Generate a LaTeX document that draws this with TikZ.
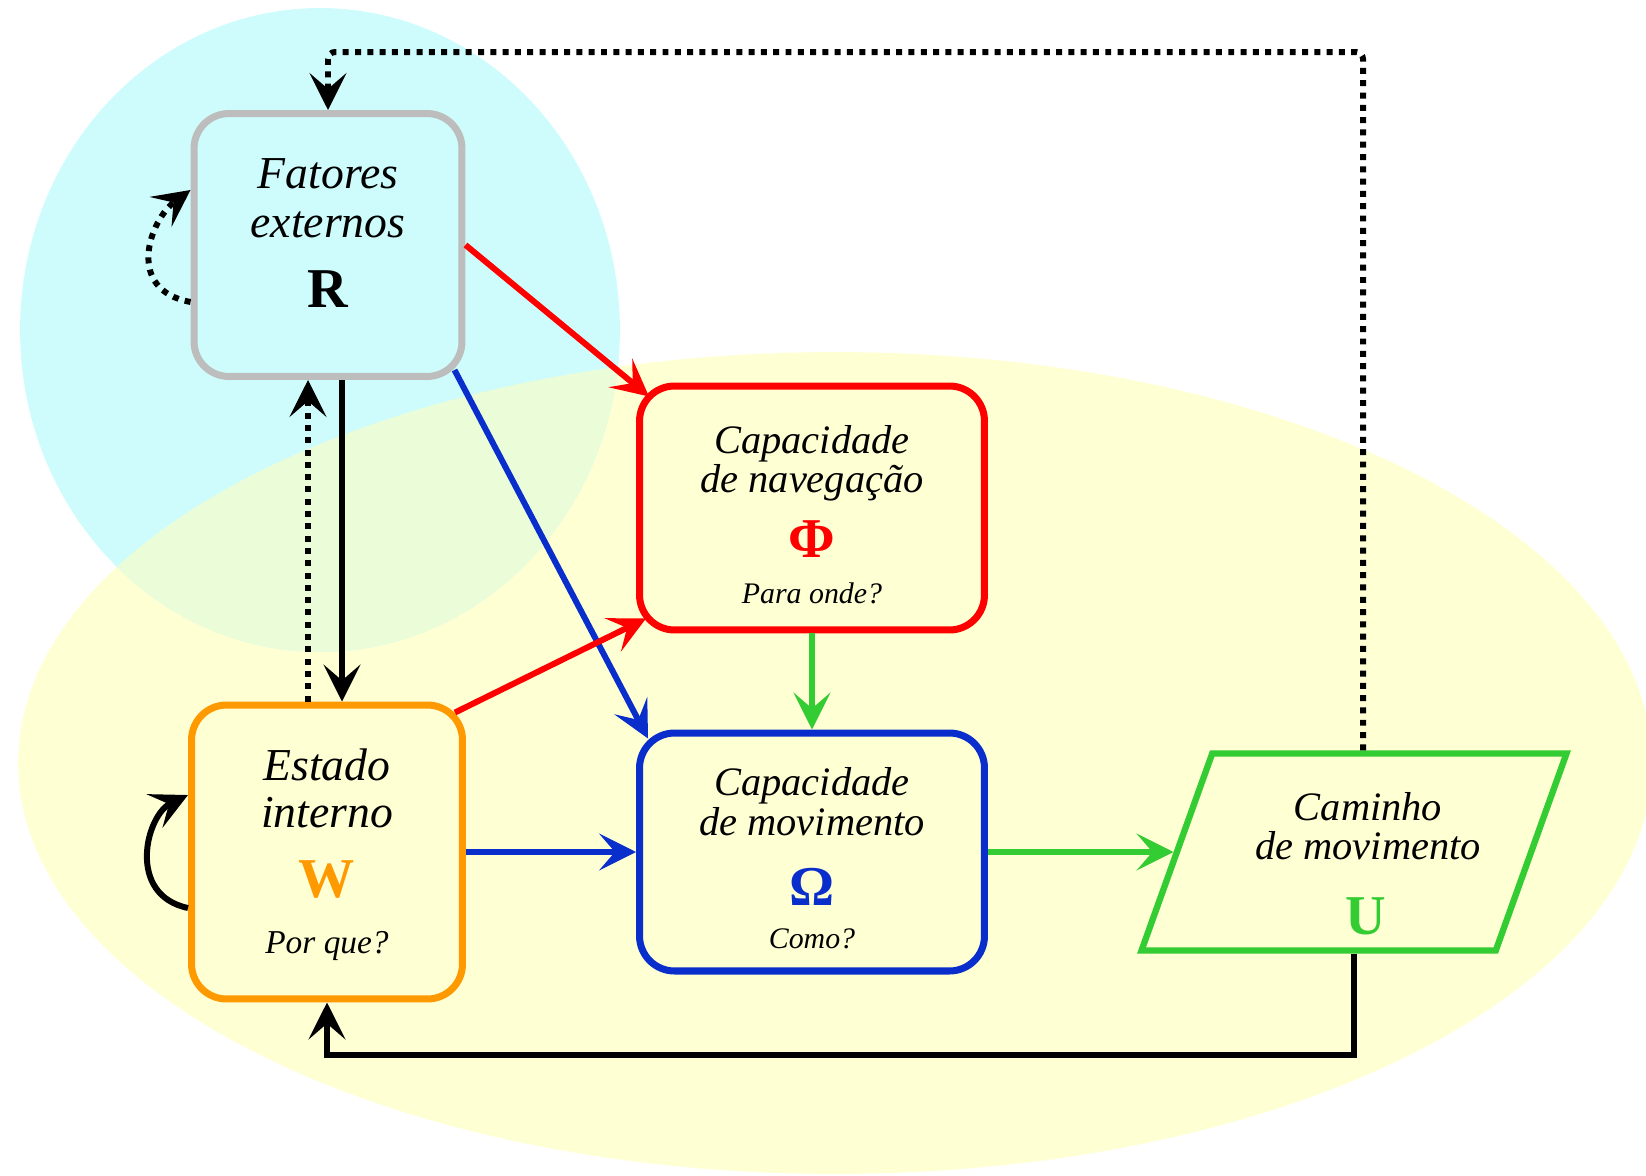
\documentclass[tikz,border=0pt]{standalone}
\usepackage{fontspec}
\setmainfont{Liberation Serif}
\usetikzlibrary{arrows.meta,shapes.geometric,calc}
\definecolor{cinza}{RGB}{189,189,189}
\definecolor{azul}{RGB}{10,46,204}
\definecolor{laranja}{RGB}{255,153,0}
\definecolor{verde}{RGB}{51,204,51}
\definecolor{fundociano}{RGB}{206,252,252}
\definecolor{fundoamarelo}{RGB}{255,255,212}
\definecolor{fundomisto}{RGB}{234,253,216}

\begin{document}
\begin{tikzpicture}[x=0.02cm,y=-0.02cm,
	caixa/.style={draw,rounded corners=0.7cm,line width=4pt},
	seta/.style={line width=3.4pt,-{Stealth[length=21pt,width=21pt,inset=9pt]}},
	pontos/.style={dash pattern=on 3.4pt off 3.6pt},
	titulo/.style={anchor=base,font=\fontsize{26}{28}\selectfont\itshape},
	subtitulo/.style={anchor=base,font=\fontsize{23}{25}\selectfont\itshape},
	letra/.style={anchor=base,font=\fontsize{32}{32}\selectfont\bfseries},
	pergunta/.style={anchor=base,font=\fontsize{17}{19}\selectfont\itshape}]
		\useasboundingbox (0,0) rectangle (1646,1176);

		% fundos
		\fill[fundoamarelo] (835,763) ellipse [x radius=16.34cm,y radius=8.22cm];
		\fill[fundociano] (320,330) ellipse [x radius=6cm,y radius=6.44cm];
		\begin{scope}
			\clip (320,330) ellipse [x radius=6cm,y radius=6.44cm];
			\fill[fundomisto] (835,763) ellipse [x radius=16.34cm,y radius=8.22cm];
		\end{scope}

		% caixas
		\node[caixa,cinza,minimum width=5.36cm,minimum height=5.26cm] (fatores) at (328,245) {};
		\node[caixa,red,minimum width=6.9cm,minimum height=4.88cm] (navegacao) at (812,508) {};
		\node[caixa,azul,minimum width=6.9cm,minimum height=4.76cm] (movimento) at (812,852) {};
		\node[caixa,laranja,minimum width=5.42cm,minimum height=5.88cm] (estado) at (327,852) {};
		\node[draw=verde,line width=3.6pt,trapezium,trapezium left angle=76,trapezium right angle=104,
			trapezium stretches=true,minimum width=8.5cm,minimum height=3.94cm] (caminho) at (1354,852) {};

		% textos
		\node[titulo] (fatores1) at (328,188) {Fatores};
		\node[titulo] (fatores2) at (328,237) {externos};
		\node[letra] (letraR) at (328,307) {R};

		\node[subtitulo] (navegacao1) at (812,453) {Capacidade};
		\node[subtitulo] (navegacao2) at (812,492) {de navegação};
		\node[letra,red] (letraPhi) at (812,557) {Φ};
		\node[pergunta] (navegacao3) at (812,603) {Para onde?};

		\node[subtitulo] (movimento1) at (812,795) {Capacidade};
		\node[subtitulo] (movimento2) at (812,835) {de movimento};
		\node[letra,azul] (letraOmega) at (812,905) {Ω};
		\node[pergunta] (movimento3) at (812,948) {Como?};

		\node[titulo] (estado1) at (327,780) {Estado};
		\node[titulo] (estado2) at (327,827) {interno};
		\node[letra,laranja] (letraW) at (327,897) {W};
		\node[pergunta,font=\fontsize{19}{21}\selectfont\itshape] (estado3) at (327,953) {Por que?};

		\node[subtitulo] (caminho1) at (1368,820) {Caminho};
		\node[subtitulo] (caminho2) at (1368,859) {de movimento};
		\node[letra,verde] (letraU) at (1366,934) {U};

		% setas
		\draw[seta,red] (fatores.east) -- ([shift={(13,14)}]navegacao.north west);
		\draw[seta,azul] ([shift={(-11,-10)}]fatores.south east) -- ([shift={(12,9)}]movimento.north west);
		\draw[seta,red] ([shift={(-11,11)}]estado.north east) -- ([shift={(10,-15)}]navegacao.south west);
		\draw[seta] ([xshift=0.28cm]fatores.south) -- ([xshift=0.28cm]fatores.south |- estado.north);
		\draw[seta,pontos] ([xshift=-0.4cm]fatores.south |- estado.north) -- ([xshift=-0.4cm]fatores.south);
		\draw[seta,verde] (navegacao.south) -- (movimento.north);
		\draw[seta,azul] (estado.east) -- (movimento.west);
		\draw[seta,verde] (movimento.east) -- (caminho.left side);
		\draw[seta,pontos,rounded corners=4pt] ([xshift=0.18cm]caminho.north) |- ([yshift=1.16cm]fatores.north) -- (fatores.north);
		\draw[seta] (caminho.south) |- ([yshift=-1.06cm]estado.south) -- (estado.south);
		\draw[seta,pontos] ([yshift=-1.14cm]fatores.west) .. controls +(-66,-12) and +(-41,30) .. ([yshift=1.1cm]fatores.west);
		\draw[seta] ([yshift=-1.12cm]estado.west) .. controls +(-62,-13) and +(-42,20) .. ([yshift=1.14cm]estado.west);
	\end{tikzpicture}
\end{document}
